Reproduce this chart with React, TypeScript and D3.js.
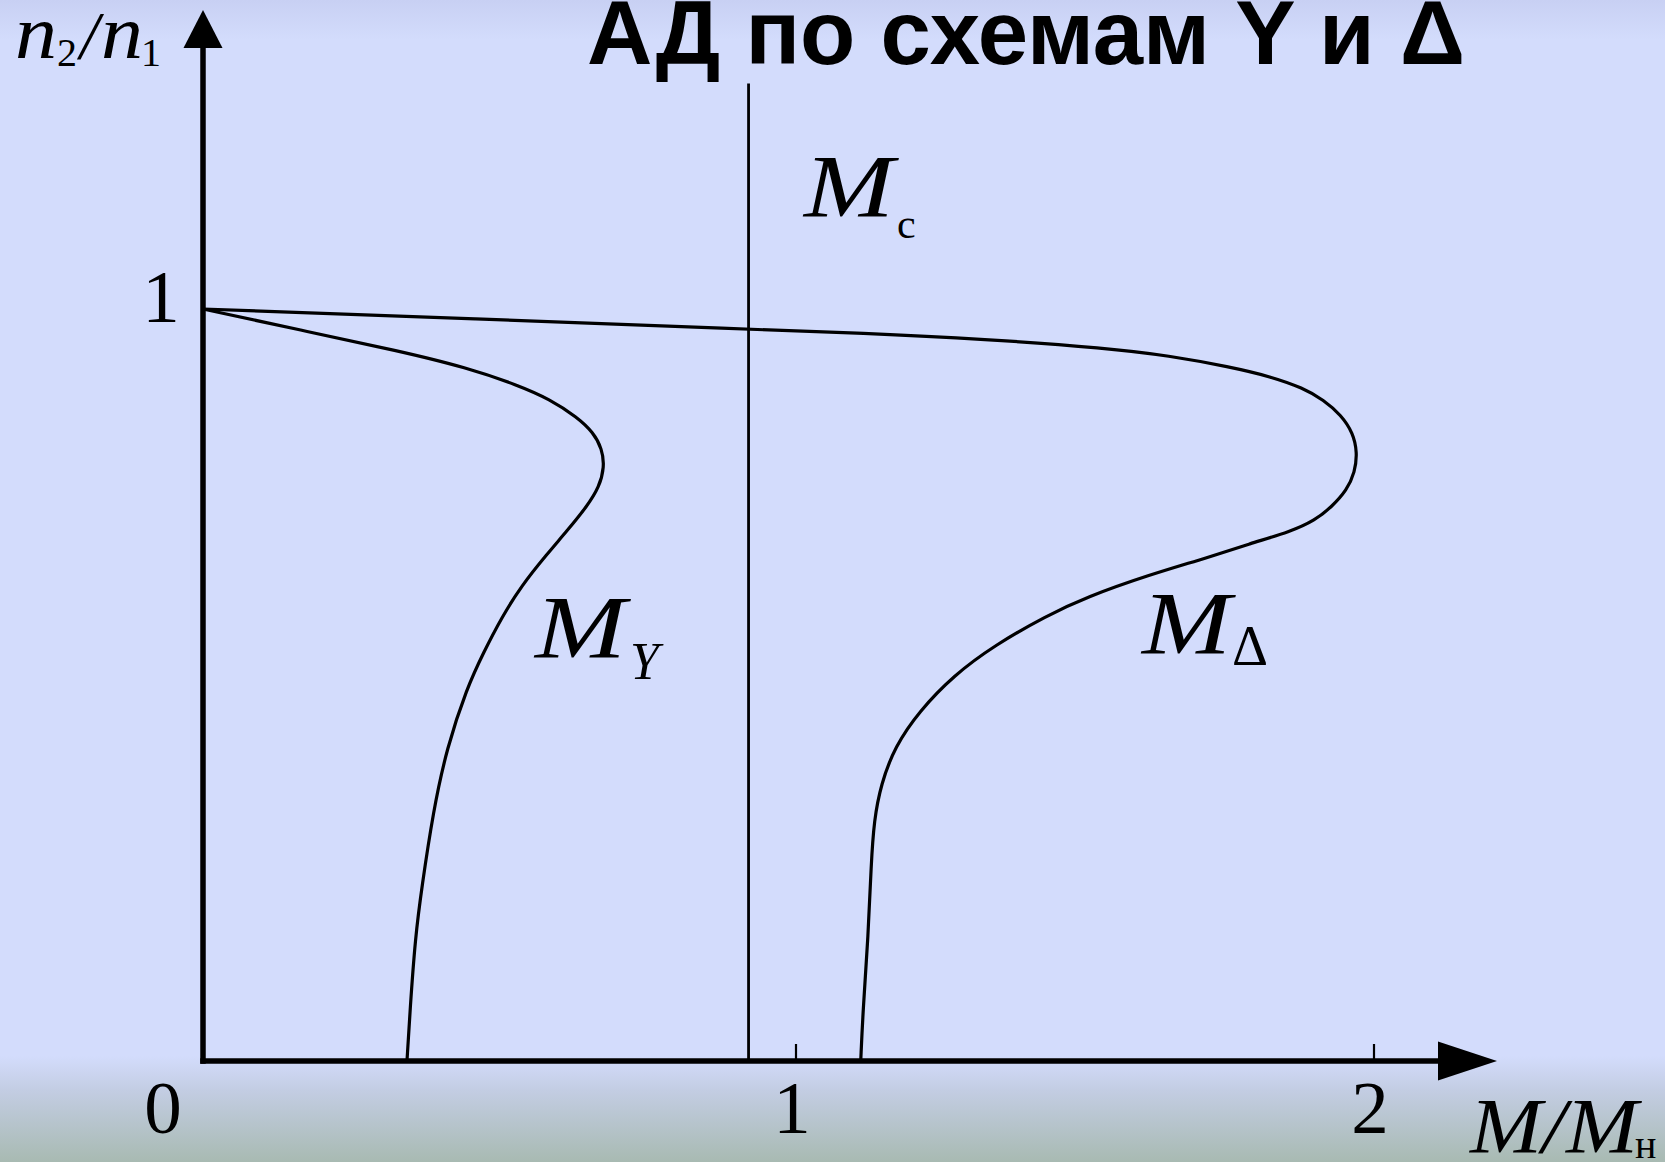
import React from "react";
import * as d3 from "d3";

// Mechanical characteristics n2/n1 = f(M/Mн) for Y and Δ connection
const W = 1665;
const H = 1162;

const titleText = "АД по схемам Y и Δ";
const xTickValues = [1, 2];
const yTickValues = [1];
const loadTorque = 0.92; // Mc, in units of Mн
const loadTop = 1.3;

// [M/Mн, n2/n1]
const starCurve: [number, number][] = [
  [0, 1.0],
  [0.164, 0.972],
  [0.332, 0.944],
  [0.445, 0.922],
  [0.53, 0.899],
  [0.585, 0.88],
  [0.631, 0.856],
  [0.658, 0.836],
  [0.673, 0.814],
  [0.677, 0.79],
  [0.668, 0.763],
  [0.648, 0.738],
  [0.614, 0.705],
  [0.58, 0.674],
  [0.537, 0.632],
  [0.503, 0.589],
  [0.473, 0.543],
  [0.445, 0.496],
  [0.411, 0.416],
  [0.388, 0.331],
  [0.369, 0.231],
  [0.358, 0.165],
  [0.349, 0.066],
  [0.344, 0.0],
];

const deltaCurve: [number, number][] = [
  [0, 1.0],
  [0.46, 0.987],
  [0.919, 0.973],
  [1.114, 0.968],
  [1.327, 0.96],
  [1.538, 0.948],
  [1.645, 0.938],
  [1.751, 0.923],
  [1.822, 0.91],
  [1.877, 0.895],
  [1.913, 0.879],
  [1.943, 0.859],
  [1.964, 0.835],
  [1.971, 0.809],
  [1.967, 0.783],
  [1.953, 0.759],
  [1.927, 0.737],
  [1.898, 0.719],
  [1.856, 0.704],
  [1.785, 0.688],
  [1.715, 0.67],
  [1.609, 0.646],
  [1.503, 0.617],
  [1.433, 0.592],
  [1.344, 0.553],
  [1.273, 0.513],
  [1.213, 0.465],
  [1.171, 0.418],
  [1.147, 0.368],
  [1.135, 0.32],
  [1.13, 0.262],
  [1.125, 0.166],
  [1.116, 0.069],
  [1.112, 0.0],
];

const serif = "'Liberation Serif', 'Times New Roman', Times, serif";
const sans = "'Liberation Sans', Arial, Helvetica, sans-serif";

export default function App() {
  const x = d3.scaleLinear().domain([0, 1, 2]).range([203, 796, 1374]);
  const y = d3.scaleLinear().domain([0, 1]).range([1061, 309]);

  const line = d3
    .line<[number, number]>()
    .x((d) => x(d[0]))
    .y((d) => y(d[1]))
    .curve(d3.curveBasis);

  const x0 = x(0);
  const y0 = y(0);
  const yArrowTip = 10;
  const yArrowBase = 48;
  const xArrowTip = 1497;
  const xArrowBase = 1438;
  const half = 19.5;

  return (
    <svg
      width={W}
      height={H}
      style={{ position: "absolute", left: 0, top: 0, display: "block" }}
    >
      <defs>
        <linearGradient id="bg" x1="0" y1="0" x2="0" y2="1">
          <stop offset="0" stopColor="#c8d0f3" />
          <stop offset={40 / H} stopColor="#d3dcfc" />
          <stop offset={1056 / H} stopColor="#d3dcfc" />
          <stop offset={1090 / H} stopColor="#c3cde3" />
          <stop offset="1" stopColor="#a8bab2" />
        </linearGradient>
      </defs>
      <rect x={0} y={0} width={W} height={H} fill="url(#bg)" />

      {/* title */}
      <text
        x={587}
        y={64}
        fontFamily={sans}
        fontWeight="bold"
        fontSize={90}
        textLength={878}
        lengthAdjust="spacingAndGlyphs"
        fill="#000"
      >
        {titleText}
      </text>

      {/* load torque line */}
      <line
        x1={x(loadTorque)}
        x2={x(loadTorque)}
        y1={y(loadTop)}
        y2={y0}
        stroke="#000"
        strokeWidth={2.8}
      />

      {/* curves */}
      <path d={line(starCurve) || ""} fill="none" stroke="#000" strokeWidth={3.2} />
      <path d={line(deltaCurve) || ""} fill="none" stroke="#000" strokeWidth={3.2} />

      {/* axes */}
      <line x1={x0} x2={x0} y1={yArrowBase} y2={y0 + 2.75} stroke="#000" strokeWidth={5.5} />
      <line x1={x0 - 2.75} x2={xArrowBase} y1={y0} y2={y0} stroke="#000" strokeWidth={5.5} />
      <path
        d={`M${x0},${yArrowTip} L${x0 + half},${yArrowBase} L${x0 - half},${yArrowBase} Z`}
        fill="#000"
      />
      <path
        d={`M${xArrowTip},${y0} L${xArrowBase},${y0 - half} L${xArrowBase},${y0 + half} Z`}
        fill="#000"
      />

      {/* x ticks */}
      {xTickValues.map((v) => (
        <line
          key={"t" + v}
          x1={x(v)}
          x2={x(v)}
          y1={y0 - 17}
          y2={y0}
          stroke="#000"
          strokeWidth={2.2}
        />
      ))}
      <text x={163} y={1133} fontFamily={serif} fontSize={75} textAnchor="middle">
        0
      </text>
      {xTickValues.map((v) => (
        <text
          key={"l" + v}
          x={x(v) - 4}
          y={1133}
          fontFamily={serif}
          fontSize={75}
          textAnchor="middle"
        >
          {v}
        </text>
      ))}
      {yTickValues.map((v) => (
        <text
          key={"y" + v}
          x={161}
          y={y(v) + 13}
          fontFamily={serif}
          fontSize={75}
          textAnchor="middle"
        >
          {v}
        </text>
      ))}

      {/* y axis title n2/n1 */}
      <g fontFamily={serif}>
        <text x={15} y={58} fontSize={76} fontStyle="italic" textLength={42} lengthAdjust="spacingAndGlyphs">
          n
        </text>
        <text x={57} y={66} fontSize={40}>
          2
        </text>
        <text x={80} y={58} fontSize={68} fontStyle="italic">
          /
        </text>
        <text x={101} y={58} fontSize={76} fontStyle="italic" textLength={42} lengthAdjust="spacingAndGlyphs">
          n
        </text>
        <text x={141} y={66} fontSize={40}>
          1
        </text>
      </g>

      {/* x axis title M/Mн */}
      <g fontFamily={serif}>
        <text
          x={1470}
          y={1152}
          fontSize={78}
          fontStyle="italic"
          textLength={168}
          lengthAdjust="spacingAndGlyphs"
        >
          M/M
        </text>
        <text x={1635} y={1158} fontSize={40}>
          н
        </text>
      </g>

      {/* curve labels */}
      <g fontFamily={serif}>
        <text x={804} y={216} fontSize={88} fontStyle="italic" textLength={90} lengthAdjust="spacingAndGlyphs">
          M
        </text>
        <text x={897} y={238} fontSize={42}>
          с
        </text>

        <text x={535} y={657} fontSize={88} fontStyle="italic" textLength={91} lengthAdjust="spacingAndGlyphs">
          M
        </text>
        <text x={630} y={679} fontSize={52} fontStyle="italic">
          Y
        </text>

        <text x={1142} y={653} fontSize={88} fontStyle="italic" textLength={89} lengthAdjust="spacingAndGlyphs">
          M
        </text>
        <text x={1232} y={665} fontSize={56}>
          Δ
        </text>
      </g>
    </svg>
  );
}
